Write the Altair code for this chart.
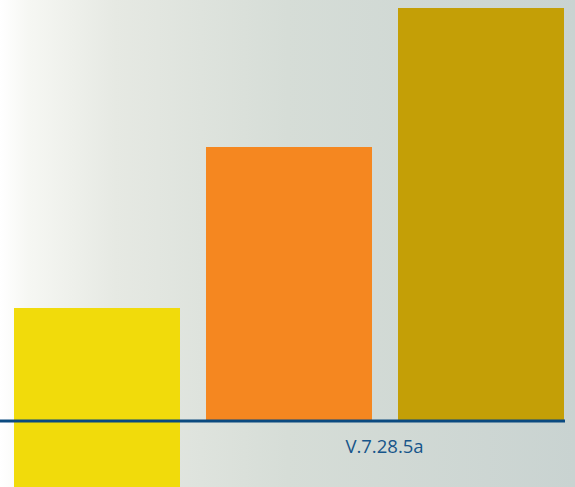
import altair as alt
import pandas as pd

categories = ["A", "B", "C"]
tops = [113, 274, 413]
bottoms = [-66, 0, 0]
colors = ["#f1db0b", "#f58720", "#c49f06"]
label_text = "V.7.28.5a"

df = pd.DataFrame({"cat": categories, "top": tops, "bottom": bottoms, "color": colors})

W, H = 575, 487
yscale = alt.Scale(domain=[-66, 421], nice=False, zero=False)
xscale = alt.Scale(domain=categories, paddingInner=26 / 192, paddingOuter=0.0651, align=0.56)

bg = alt.Chart(pd.DataFrame({"a": [0]})).mark_rect(
    color=alt.Gradient(
        gradient="linear", x1=0, x2=1, y1=0, y2=0,
        stops=[
            alt.GradientStop(color="#ffffff", offset=0),
            alt.GradientStop(color="#f6f7f3", offset=0.05),
            alt.GradientStop(color="#e6e9e3", offset=0.2),
            alt.GradientStop(color="#d6ddd7", offset=0.5),
            alt.GradientStop(color="#c9d3d1", offset=1),
        ],
    )
).encode(x=alt.value(0), x2=alt.value(W), y=alt.value(0), y2=alt.value(H))

bars = alt.Chart(df).mark_bar(clip=True).encode(
    x=alt.X("cat:N", scale=xscale, axis=None),
    y=alt.Y("top:Q", scale=yscale, axis=None),
    y2="bottom:Q",
    color=alt.Color("color:N", scale=None),
)

rule = alt.Chart(pd.DataFrame({"v": [0]})).mark_rule(color="#0b4a80", strokeWidth=3).encode(
    y=alt.Y("v:Q", scale=yscale, axis=None), x=alt.value(0), x2=alt.value(565)
)

label = alt.Chart(pd.DataFrame({"t": [label_text]})).mark_text(
    font="Open Sans", fontSize=18.5, fontWeight=500, color="#17558a", align="center", baseline="alphabetic"
).encode(text="t:N", x=alt.value(384.5), y=alt.value(453))

chart = alt.layer(bg, bars, rule, label).properties(
    width=W, height=H, padding=0, autosize=alt.AutoSizeParams(type="none")
).configure_view(stroke=None).configure(background="#ffffff")

chart.save("out.html", embed_options={"renderer": "svg", "actions": False})
